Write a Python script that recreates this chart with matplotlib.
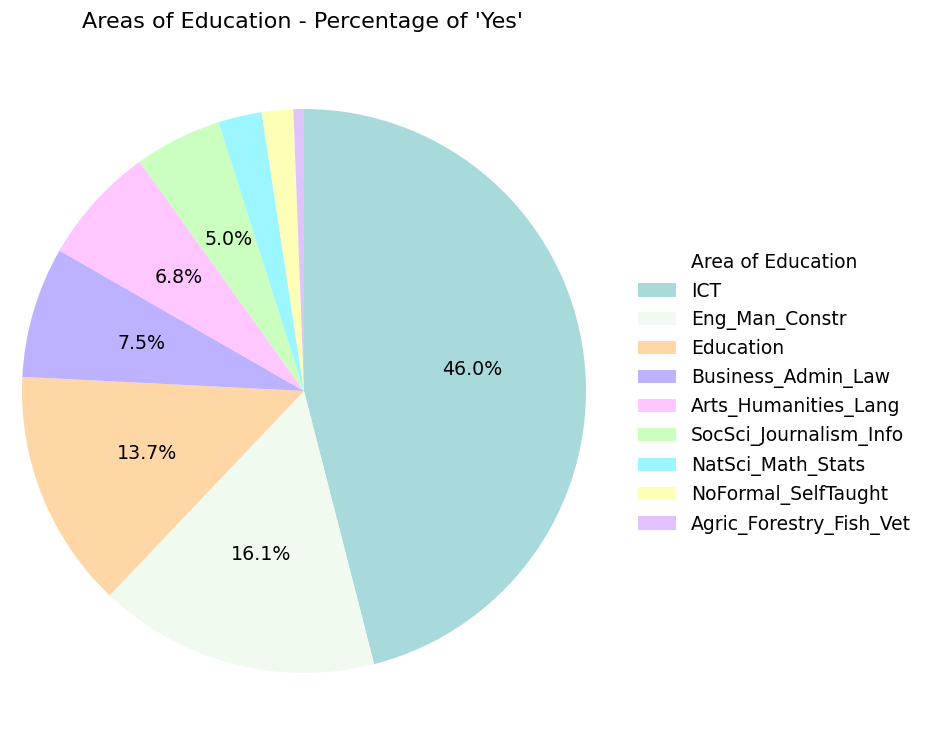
import matplotlib
matplotlib.use("Agg")
import matplotlib.pyplot as plt

# Share of 'Yes' responses per area of education (percent)
areas = [
    "ICT",
    "Eng_Man_Constr",
    "Education",
    "Business_Admin_Law",
    "Arts_Humanities_Lang",
    "SocSci_Journalism_Info",
    "NatSci_Math_Stats",
    "NoFormal_SelfTaught",
    "Agric_Forestry_Fish_Vet",
]
shares = [46.0, 16.1, 13.7, 7.5, 6.8, 5.0, 2.5, 1.8, 0.6]
palette = [
    "#A8DADC", "#F1FAEE", "#FFD6A5", "#BDB2FF", "#FFC6FF",
    "#CAFFBF", "#9BF6FF", "#FDFFB6", "#E0C3FC",
]


def pct_label(p):
    # hide labels on the thin slices
    return f"{p:.1f}%" if p >= 3 else ""


fig = plt.figure(figsize=(9.39, 7.55), dpi=100)
ax = fig.add_axes([22 / 939, 82 / 755, 564 / 939, 564 / 755])

wedges, texts, autotexts = ax.pie(
    shares,
    colors=palette,
    startangle=90,
    counterclock=False,
    autopct=pct_label,
    pctdistance=0.6,
    textprops={"fontsize": 13.7},
)
ax.set_xlim(-1, 1)
ax.set_ylim(-1, 1)
ax.set_aspect("equal")

fig.text(303 / 939, 1 - 22 / 755, "Areas of Education - Percentage of 'Yes'",
         ha="center", va="center", fontsize=16)

leg = ax.legend(
    wedges, areas,
    title="Area of Education",
    loc="center left",
    bbox_to_anchor=(1.063, 0.495),
    frameon=False,
    fontsize=13.5,
    title_fontsize=13.5,
)

fig.savefig("out.png", dpi=100)
